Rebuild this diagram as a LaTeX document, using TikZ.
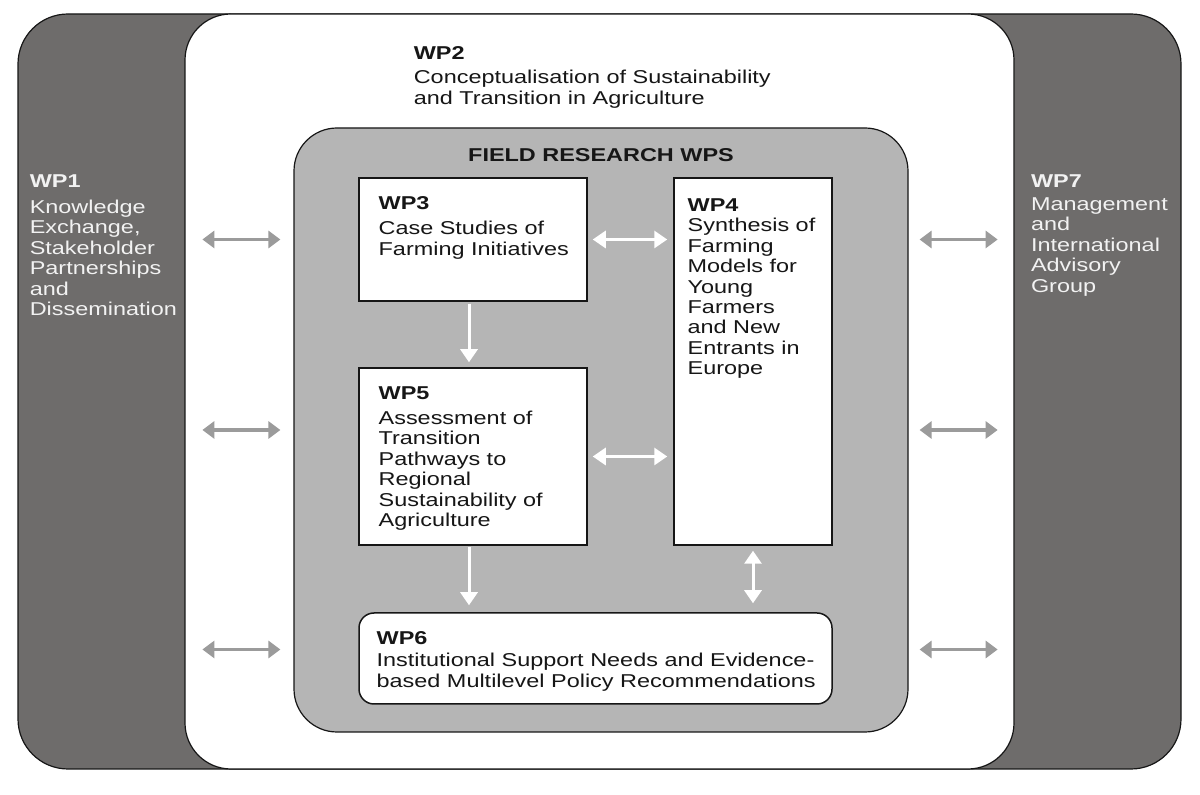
\documentclass[tikz,border=0pt]{standalone}
\usepackage{fontspec}
\setmainfont{Liberation Sans}[FakeStretch=1.26]
\usepackage{tikz}
\usetikzlibrary{arrows.meta,positioning}
\definecolor{PanelDark}{RGB}{110,108,107}
\definecolor{FieldGrey}{RGB}{181,181,181}
\definecolor{ArrowGrey}{RGB}{155,155,155}
\definecolor{InkDark}{RGB}{22,22,22}
\definecolor{PanelText}{RGB}{242,242,242}
\newcommand{\wphead}[2][2pt]{\textbf{#2}\\[#1]}

\begin{document}
\begin{tikzpicture}[x=0.5pt, y=-0.5pt,
        panel/.style={rectangle, draw=InkDark, line width=0.6pt, inner sep=0pt},
        wpbox/.style={rectangle, draw=InkDark, fill=white, line width=0.75pt, inner sep=0pt},
        wptext/.style={inner sep=0pt, align=left, font=\fontsize{9.3}{10.2}\selectfont, text=InkDark},
        sidetext/.style={wptext, text=PanelText},
        greyarr/.style={{Triangle[length=6pt,width=8.5pt]}-{Triangle[length=6pt,width=8.5pt]}, line width=1.75pt, ArrowGrey},
        whitearr/.style={{Triangle[length=6.5pt,width=8.5pt]}-{Triangle[length=6.5pt,width=8.5pt]}, line width=1.5pt, white},
        whitedown/.style={-{Triangle[length=6.5pt,width=8.5pt]}, line width=1.5pt, white}
      ]
        \useasboundingbox (0,0) rectangle (1200,795);
        % nested panels
        \node[panel, fill=PanelDark, rounded corners=25pt, minimum width=581.5pt, minimum height=377.5pt] (outer) at (599.5,391.5) {};
        \node[panel, fill=white, rounded corners=23pt, minimum width=414.5pt, minimum height=377.5pt] (wp2) at (599.5,391.5) {};
        \node[panel, fill=FieldGrey, rounded corners=21.5pt, minimum width=307pt, minimum height=302pt] (field) at (601,430) {};
        \node[wpbox, minimum width=114pt, minimum height=61.5pt] (wp3) at (473,239.5) {};
        \node[wpbox, minimum width=79pt, minimum height=183.5pt] (wp4) at (753,361.5) {};
        \node[wpbox, minimum width=114pt, minimum height=88.5pt] (wp5) at (473,456.5) {};
        \node[wpbox, rounded corners=7.5pt, minimum width=236.5pt, minimum height=45.5pt] (wp6) at (595.5,658.5) {};
        % texts
        \node[sidetext, below right=80.5pt and 6pt of outer.north west] (wp1txt)
          {\wphead[2.8pt]{WP1}Knowledge\\Exchange,\\Stakeholder\\Partnerships\\and\\Dissemination};
        \node[sidetext, below right=80.5pt and 8pt of wp2.north east] (wp7txt)
          {\wphead[1.3pt]{WP7}Management\\and\\International\\Advisory\\Group};
        \node[wptext, below right=16.5pt and 114.5pt of wp2.north west] (wp2txt)
          {\wphead[1.8pt]{WP2}Conceptualisation of Sustainability\\and Transition in Agriculture};
        \node[wptext, below=10.5pt of field.north, font=\fontsize{9.3}{10.2}\selectfont\bfseries] (fieldtxt)
          {FIELD RESEARCH WPS};
        \node[wptext, below right=9.5pt and 10pt of wp3.north west] (wp3txt)
          {\wphead[2.3pt]{WP3}Case Studies of\\Farming Initiatives};
        \node[wptext, below right=10.5pt and 7pt of wp4.north west] (wp4txt)
          {\wphead[0pt]{WP4}Synthesis of\\Farming\\Models for\\Young\\Farmers\\and New\\Entrants in\\Europe};
        \node[wptext, below right=9.5pt and 10pt of wp5.north west] (wp5txt)
          {\wphead[2.3pt]{WP5}Assessment of\\Transition\\Pathways to\\Regional\\Sustainability of\\Agriculture};
        \node[wptext, below right=9.5pt and 9pt of wp6.north west] (wp6txt)
          {\wphead[0.8pt]{WP6}Institutional Support Needs and Evidence-\\based Multilevel Policy Recommendations};
        % links inside the field
        \draw[whitearr] ([xshift=2.5pt]wp3.east) -- ([xshift=-3pt]wp4.west |- wp3.east);
        \draw[whitearr] ([xshift=2.5pt]wp5.east) -- ([xshift=-3pt]wp4.west |- wp5.east);
        \draw[whitedown] ([xshift=-2pt,yshift=-1pt]wp3.south) -- ([xshift=-2pt,yshift=2.5pt]wp5.north);
        \draw[whitedown] ([xshift=-2pt,yshift=-0.5pt]wp5.south) -- ([xshift=-2pt,yshift=3.5pt]wp5.south |- wp6.north);
        \draw[whitearr] ([yshift=-2.5pt]wp4.south) -- ([yshift=4.5pt]wp4.south |- wp6.north);
        % links to WP1 and WP7
        \coordinate (rowA) at (wp3.east);
        \coordinate (rowB) at (field.center);
        \coordinate (rowC) at ([yshift=4.5pt]wp6.west);
        \foreach \r in {rowA,rowB,rowC} {
          \draw[greyarr] ([xshift=9pt]wp2.west |- \r) -- ([xshift=-6.5pt]field.west |- \r);
          \draw[greyarr] ([xshift=5.5pt]field.east |- \r) -- ([xshift=-8.5pt]wp2.east |- \r);
        }
      \end{tikzpicture}
\end{document}
